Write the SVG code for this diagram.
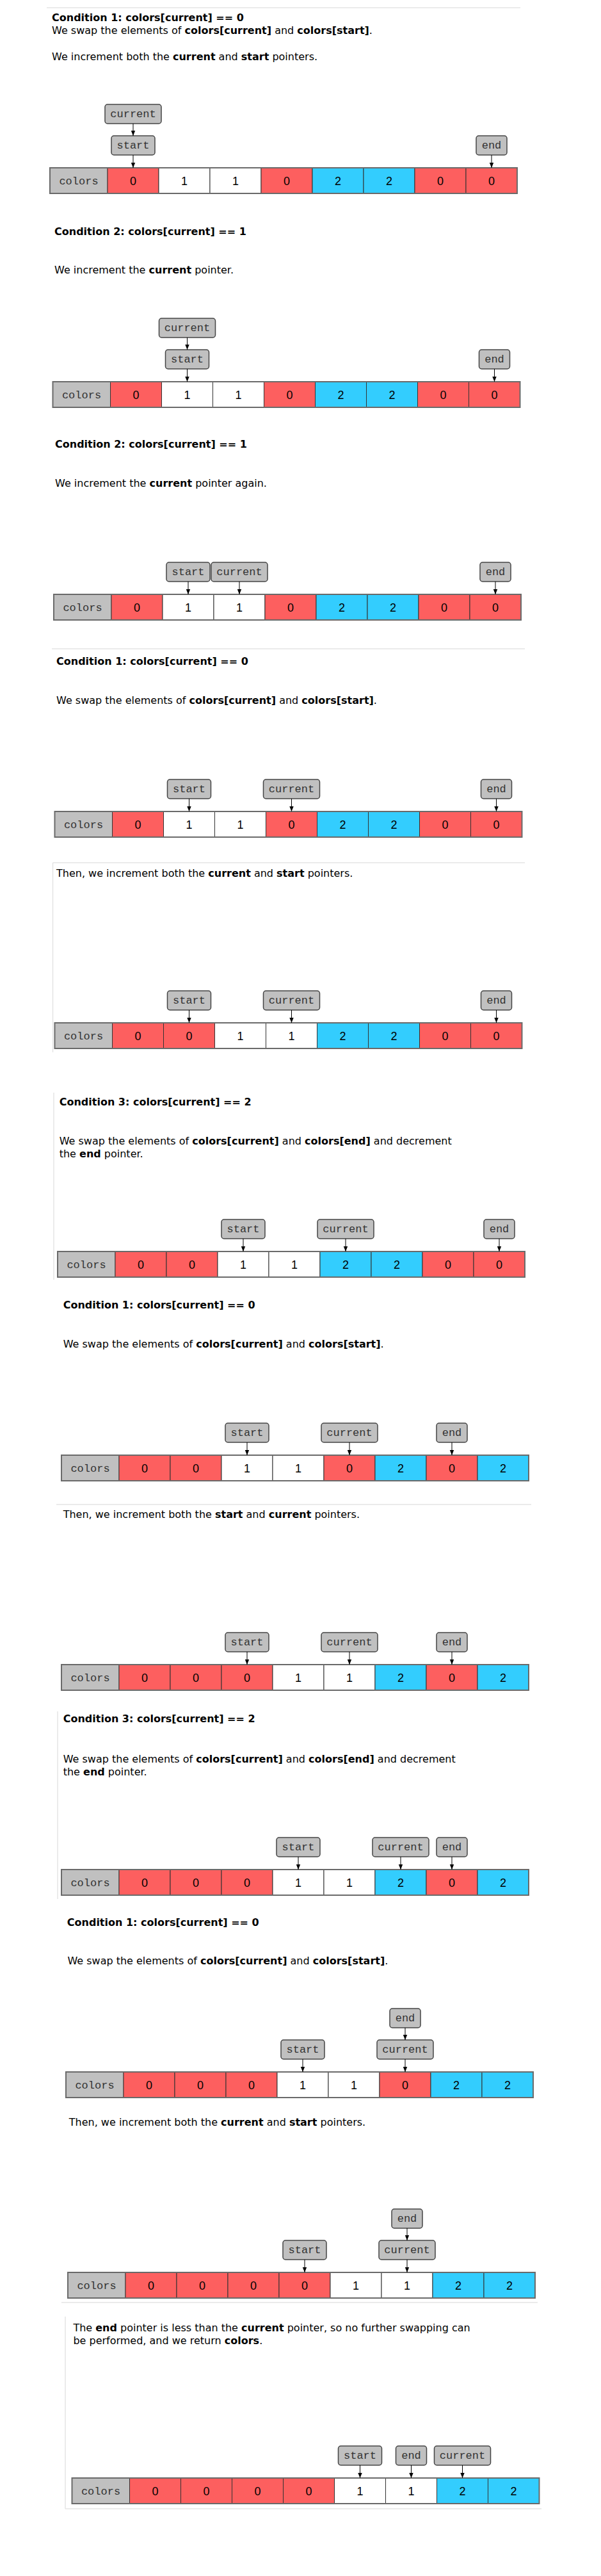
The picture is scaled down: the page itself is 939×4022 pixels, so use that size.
<svg xmlns="http://www.w3.org/2000/svg" xmlns:xlink="http://www.w3.org/1999/xlink" width="939" height="4022" viewBox="0 0 939 4022">
<style>
.t{font-family:"DejaVu Sans",Verdana,sans-serif;font-size:16px;fill:#000}
.b{font-weight:bold}
.rule{stroke:#e4e4e4;stroke-width:1.5;fill:none}
.p rect{fill:#c0c0c0;stroke:#454545;stroke-width:1.5}
.p text{font-family:"Liberation Mono","Courier New",monospace;font-size:17px;fill:#333;text-anchor:middle}
.cr{fill:#fd5f5f;stroke:#333;stroke-width:1}
.cw{fill:#fff;stroke:#333;stroke-width:1}
.cb{fill:#33cdfe;stroke:#333;stroke-width:1}
.cl{fill:#c0c0c0;stroke:#555;stroke-width:1}
.n{font-family:"Liberation Sans",Arial,sans-serif;font-size:18px;fill:#000;text-anchor:middle}
.m{font-family:"Liberation Mono","Courier New",monospace;font-size:17px;fill:#333;text-anchor:middle}
.ol{fill:none;stroke:#6a6a6a;stroke-width:2}
.a{stroke:#000;stroke-width:1;fill:none;marker-end:url(#ah)}
</style>
<defs>
<marker id="ah" viewBox="0 0 10 10" refX="10" refY="5" markerWidth="8" markerHeight="8" orient="auto" markerUnits="userSpaceOnUse"><path d="M0,1 L10,5 L0,9 z" fill="#000"/></marker>
<g id="lab"><rect class="cl" width="90" height="40"/><text class="m" x="45" y="25.5">colors</text></g>
<g id="v0"><rect class="cr" width="80" height="40"/><text class="n" x="40" y="26.5">0</text></g>
<g id="v1"><rect class="cw" width="80" height="40"/><text class="n" x="40" y="26.5">1</text></g>
<g id="v2"><rect class="cb" width="80" height="40"/><text class="n" x="40" y="26.5">2</text></g>
</defs>
<rect width="939" height="4022" fill="#fff"/>

<g id="rules">
<line class="rule" x1="73" y1="12" x2="813" y2="12"/>
<line class="rule" x1="81" y1="1013" x2="820" y2="1013"/>
<line class="rule" x1="82.5" y1="1347" x2="820" y2="1347"/>
<line class="rule" x1="82.5" y1="1347" x2="82.5" y2="1643"/>
<line class="rule" x1="84" y1="1706" x2="84" y2="1998"/>
<line class="rule" x1="88" y1="2349" x2="830" y2="2349"/>
<line class="rule" x1="90" y1="2672" x2="90" y2="2965"/>
<line class="rule" x1="96" y1="3595" x2="840" y2="3595"/>
<line class="rule" x1="102" y1="3617" x2="102" y2="3917"/>
<line class="rule" x1="102" y1="3917" x2="846" y2="3917"/>
</g>

<g id="texts">
<text class="t b" x="81" y="33">Condition 1: colors[current] == 0</text>
<text class="t" x="81" y="53">We swap the elements of <tspan class="b">colors[current]</tspan> and <tspan class="b">colors[start]</tspan>.</text>
<text class="t" x="81" y="94">We increment both the <tspan class="b">current</tspan> and <tspan class="b">start</tspan> pointers.</text>

<text class="t b" x="85" y="367">Condition 2: colors[current] == 1</text>
<text class="t" x="85" y="427">We increment the <tspan class="b">current</tspan> pointer.</text>

<text class="t b" x="86" y="699">Condition 2: colors[current] == 1</text>
<text class="t" x="86" y="760">We increment the <tspan class="b">current</tspan> pointer again.</text>

<text class="t b" x="88" y="1038">Condition 1: colors[current] == 0</text>
<text class="t" x="88" y="1099">We swap the elements of <tspan class="b">colors[current]</tspan> and <tspan class="b">colors[start]</tspan>.</text>

<text class="t" x="88" y="1369">Then, we increment both the <tspan class="b">current</tspan> and <tspan class="b">start</tspan> pointers.</text>

<text class="t b" x="92.7" y="1726">Condition 3: colors[current] == 2</text>
<text class="t" x="92.7" y="1787">We swap the elements of <tspan class="b">colors[current]</tspan> and <tspan class="b">colors[end]</tspan> and decrement</text>
<text class="t" x="92.7" y="1807">the <tspan class="b">end</tspan> pointer.</text>

<text class="t b" x="98.7" y="2043">Condition 1: colors[current] == 0</text>
<text class="t" x="98.7" y="2104">We swap the elements of <tspan class="b">colors[current]</tspan> and <tspan class="b">colors[start]</tspan>.</text>

<text class="t" x="98.7" y="2370">Then, we increment both the <tspan class="b">start</tspan> and <tspan class="b">current</tspan> pointers.</text>

<text class="t b" x="98.7" y="2689">Condition 3: colors[current] == 2</text>
<text class="t" x="98.7" y="2752">We swap the elements of <tspan class="b">colors[current]</tspan> and <tspan class="b">colors[end]</tspan> and decrement</text>
<text class="t" x="98.7" y="2772">the <tspan class="b">end</tspan> pointer.</text>

<text class="t b" x="104.8" y="3007">Condition 1: colors[current] == 0</text>
<text class="t" x="105.4" y="3067">We swap the elements of <tspan class="b">colors[current]</tspan> and <tspan class="b">colors[start]</tspan>.</text>
<text class="t" x="107.8" y="3319">Then, we increment both the <tspan class="b">current</tspan> and <tspan class="b">start</tspan> pointers.</text>

<text class="t" x="114.4" y="3640">The <tspan class="b">end</tspan> pointer is less than the <tspan class="b">current</tspan> pointer, so no further swapping can</text>
<text class="t" x="114.4" y="3660">be performed, and we return <tspan class="b">colors</tspan>.</text>
</g>

<g id="s1-array" transform="translate(78,262)"><use href="#lab"/><use href="#v0" x="90"/><use href="#v1" x="170"/><use href="#v1" x="250"/><use href="#v0" x="330"/><use href="#v2" x="410"/><use href="#v2" x="490"/><use href="#v0" x="570"/><use href="#v0" x="650"/><rect class="ol" width="730" height="40"/></g>
<g id="s2-array" transform="translate(82.5,596)"><use href="#lab"/><use href="#v0" x="90"/><use href="#v1" x="170"/><use href="#v1" x="250"/><use href="#v0" x="330"/><use href="#v2" x="410"/><use href="#v2" x="490"/><use href="#v0" x="570"/><use href="#v0" x="650"/><rect class="ol" width="730" height="40"/></g>
<g id="s3-array" transform="translate(84,928)"><use href="#lab"/><use href="#v0" x="90"/><use href="#v1" x="170"/><use href="#v1" x="250"/><use href="#v0" x="330"/><use href="#v2" x="410"/><use href="#v2" x="490"/><use href="#v0" x="570"/><use href="#v0" x="650"/><rect class="ol" width="730" height="40"/></g>
<g id="s4-array" transform="translate(85.5,1267)"><use href="#lab"/><use href="#v0" x="90"/><use href="#v1" x="170"/><use href="#v1" x="250"/><use href="#v0" x="330"/><use href="#v2" x="410"/><use href="#v2" x="490"/><use href="#v0" x="570"/><use href="#v0" x="650"/><rect class="ol" width="730" height="40"/></g>
<g id="s5-array" transform="translate(85.5,1597)"><use href="#lab"/><use href="#v0" x="90"/><use href="#v0" x="170"/><use href="#v1" x="250"/><use href="#v1" x="330"/><use href="#v2" x="410"/><use href="#v2" x="490"/><use href="#v0" x="570"/><use href="#v0" x="650"/><rect class="ol" width="730" height="40"/></g>
<g id="s6-array" transform="translate(90,1954)"><use href="#lab"/><use href="#v0" x="90"/><use href="#v0" x="170"/><use href="#v1" x="250"/><use href="#v1" x="330"/><use href="#v2" x="410"/><use href="#v2" x="490"/><use href="#v0" x="570"/><use href="#v0" x="650"/><rect class="ol" width="730" height="40"/></g>
<g id="s7-array" transform="translate(96,2272)"><use href="#lab"/><use href="#v0" x="90"/><use href="#v0" x="170"/><use href="#v1" x="250"/><use href="#v1" x="330"/><use href="#v0" x="410"/><use href="#v2" x="490"/><use href="#v0" x="570"/><use href="#v2" x="650"/><rect class="ol" width="730" height="40"/></g>
<g id="s8-array" transform="translate(96,2599)"><use href="#lab"/><use href="#v0" x="90"/><use href="#v0" x="170"/><use href="#v0" x="250"/><use href="#v1" x="330"/><use href="#v1" x="410"/><use href="#v2" x="490"/><use href="#v0" x="570"/><use href="#v2" x="650"/><rect class="ol" width="730" height="40"/></g>
<g id="s9-array" transform="translate(96,2919)"><use href="#lab"/><use href="#v0" x="90"/><use href="#v0" x="170"/><use href="#v0" x="250"/><use href="#v1" x="330"/><use href="#v1" x="410"/><use href="#v2" x="490"/><use href="#v0" x="570"/><use href="#v2" x="650"/><rect class="ol" width="730" height="40"/></g>
<g id="s10-array" transform="translate(103,3235)"><use href="#lab"/><use href="#v0" x="90"/><use href="#v0" x="170"/><use href="#v0" x="250"/><use href="#v1" x="330"/><use href="#v1" x="410"/><use href="#v0" x="490"/><use href="#v2" x="570"/><use href="#v2" x="650"/><rect class="ol" width="730" height="40"/></g>
<g id="s11-array" transform="translate(106,3548)"><use href="#lab"/><use href="#v0" x="90"/><use href="#v0" x="170"/><use href="#v0" x="250"/><use href="#v0" x="330"/><use href="#v1" x="410"/><use href="#v1" x="490"/><use href="#v2" x="570"/><use href="#v2" x="650"/><rect class="ol" width="730" height="40"/></g>
<g id="s12-array" transform="translate(112.5,3869)"><use href="#lab"/><use href="#v0" x="90"/><use href="#v0" x="170"/><use href="#v0" x="250"/><use href="#v0" x="330"/><use href="#v1" x="410"/><use href="#v1" x="490"/><use href="#v2" x="570"/><use href="#v2" x="650"/><rect class="ol" width="730" height="40"/></g>

<g id="s1-current" class="p"><rect x="164" y="163" width="88" height="30" rx="4"/><text x="208" y="183">current</text></g>
<g id="s1-start" class="p"><rect x="174" y="212" width="68" height="30" rx="4"/><text x="208" y="232">start</text></g>
<g id="s1-end" class="p"><rect x="744" y="212" width="48" height="30" rx="4"/><text x="768" y="232">end</text></g>

<g id="s2-current" class="p"><rect x="248.5" y="497" width="88" height="30" rx="4"/><text x="292.5" y="517">current</text></g>
<g id="s2-start" class="p"><rect x="258.5" y="546" width="68" height="30" rx="4"/><text x="292.5" y="566">start</text></g>
<g id="s2-end" class="p"><rect x="748.5" y="546" width="48" height="30" rx="4"/><text x="772.5" y="566">end</text></g>

<g id="s3-start" class="p"><rect x="260" y="878" width="68" height="30" rx="4"/><text x="294" y="898">start</text></g>
<g id="s3-current" class="p"><rect x="330" y="878" width="88" height="30" rx="4"/><text x="374" y="898">current</text></g>
<g id="s3-end" class="p"><rect x="750" y="878" width="48" height="30" rx="4"/><text x="774" y="898">end</text></g>

<g id="s4-start" class="p"><rect x="261.5" y="1217" width="68" height="30" rx="4"/><text x="295.5" y="1237">start</text></g>
<g id="s4-current" class="p"><rect x="411.5" y="1217" width="88" height="30" rx="4"/><text x="455.5" y="1237">current</text></g>
<g id="s4-end" class="p"><rect x="751.5" y="1217" width="48" height="30" rx="4"/><text x="775.5" y="1237">end</text></g>

<g id="s5-start" class="p"><rect x="261.5" y="1547" width="68" height="30" rx="4"/><text x="295.5" y="1567">start</text></g>
<g id="s5-current" class="p"><rect x="411.5" y="1547" width="88" height="30" rx="4"/><text x="455.5" y="1567">current</text></g>
<g id="s5-end" class="p"><rect x="751.5" y="1547" width="48" height="30" rx="4"/><text x="775.5" y="1567">end</text></g>

<g id="s6-start" class="p"><rect x="346" y="1904" width="68" height="30" rx="4"/><text x="380" y="1924">start</text></g>
<g id="s6-current" class="p"><rect x="496" y="1904" width="88" height="30" rx="4"/><text x="540" y="1924">current</text></g>
<g id="s6-end" class="p"><rect x="756" y="1904" width="48" height="30" rx="4"/><text x="780" y="1924">end</text></g>

<g id="s7-start" class="p"><rect x="352" y="2222" width="68" height="30" rx="4"/><text x="386" y="2242">start</text></g>
<g id="s7-current" class="p"><rect x="502" y="2222" width="88" height="30" rx="4"/><text x="546" y="2242">current</text></g>
<g id="s7-end" class="p"><rect x="682" y="2222" width="48" height="30" rx="4"/><text x="706" y="2242">end</text></g>

<g id="s8-start" class="p"><rect x="352" y="2549" width="68" height="30" rx="4"/><text x="386" y="2569">start</text></g>
<g id="s8-current" class="p"><rect x="502" y="2549" width="88" height="30" rx="4"/><text x="546" y="2569">current</text></g>
<g id="s8-end" class="p"><rect x="682" y="2549" width="48" height="30" rx="4"/><text x="706" y="2569">end</text></g>

<g id="s9-start" class="p"><rect x="432" y="2869" width="68" height="30" rx="4"/><text x="466" y="2889">start</text></g>
<g id="s9-current" class="p"><rect x="582" y="2869" width="88" height="30" rx="4"/><text x="626" y="2889">current</text></g>
<g id="s9-end" class="p"><rect x="682" y="2869" width="48" height="30" rx="4"/><text x="706" y="2889">end</text></g>

<g id="s10-end" class="p"><rect x="609" y="3136" width="48" height="30" rx="4"/><text x="633" y="3156">end</text></g>
<g id="s10-start" class="p"><rect x="439" y="3185" width="68" height="30" rx="4"/><text x="473" y="3205">start</text></g>
<g id="s10-current" class="p"><rect x="589" y="3185" width="88" height="30" rx="4"/><text x="633" y="3205">current</text></g>

<g id="s11-end" class="p"><rect x="612" y="3449" width="48" height="30" rx="4"/><text x="636" y="3469">end</text></g>
<g id="s11-start" class="p"><rect x="442" y="3498" width="68" height="30" rx="4"/><text x="476" y="3518">start</text></g>
<g id="s11-current" class="p"><rect x="592" y="3498" width="88" height="30" rx="4"/><text x="636" y="3518">current</text></g>

<g id="s12-start" class="p"><rect x="528.5" y="3819" width="68" height="30" rx="4"/><text x="562.5" y="3839">start</text></g>
<g id="s12-end" class="p"><rect x="618.5" y="3819" width="48" height="30" rx="4"/><text x="642.5" y="3839">end</text></g>
<g id="s12-current" class="p"><rect x="678.5" y="3819" width="88" height="30" rx="4"/><text x="722.5" y="3839">current</text></g>

<g id="connectors">
<line class="a" x1="208" y1="193" x2="208" y2="212"/>
<line class="a" x1="208" y1="242" x2="208" y2="262"/>
<line class="a" x1="768" y1="242" x2="768" y2="262"/>
<line class="a" x1="292.5" y1="527" x2="292.5" y2="546"/>
<line class="a" x1="292.5" y1="576" x2="292.5" y2="596"/>
<line class="a" x1="772.5" y1="576" x2="772.5" y2="596"/>
<line class="a" x1="294" y1="908" x2="294" y2="928"/>
<line class="a" x1="374" y1="908" x2="374" y2="928"/>
<line class="a" x1="774" y1="908" x2="774" y2="928"/>
<line class="a" x1="295.5" y1="1247" x2="295.5" y2="1267"/>
<line class="a" x1="455.5" y1="1247" x2="455.5" y2="1267"/>
<line class="a" x1="775.5" y1="1247" x2="775.5" y2="1267"/>
<line class="a" x1="295.5" y1="1577" x2="295.5" y2="1597"/>
<line class="a" x1="455.5" y1="1577" x2="455.5" y2="1597"/>
<line class="a" x1="775.5" y1="1577" x2="775.5" y2="1597"/>
<line class="a" x1="380" y1="1934" x2="380" y2="1954"/>
<line class="a" x1="540" y1="1934" x2="540" y2="1954"/>
<line class="a" x1="780" y1="1934" x2="780" y2="1954"/>
<line class="a" x1="386" y1="2252" x2="386" y2="2272"/>
<line class="a" x1="546" y1="2252" x2="546" y2="2272"/>
<line class="a" x1="706" y1="2252" x2="706" y2="2272"/>
<line class="a" x1="386" y1="2579" x2="386" y2="2599"/>
<line class="a" x1="546" y1="2579" x2="546" y2="2599"/>
<line class="a" x1="706" y1="2579" x2="706" y2="2599"/>
<line class="a" x1="466" y1="2899" x2="466" y2="2919"/>
<line class="a" x1="626" y1="2899" x2="626" y2="2919"/>
<line class="a" x1="706" y1="2899" x2="706" y2="2919"/>
<line class="a" x1="633" y1="3166" x2="633" y2="3185"/>
<line class="a" x1="473" y1="3215" x2="473" y2="3235"/>
<line class="a" x1="633" y1="3215" x2="633" y2="3235"/>
<line class="a" x1="636" y1="3479" x2="636" y2="3498"/>
<line class="a" x1="476" y1="3528" x2="476" y2="3548"/>
<line class="a" x1="636" y1="3528" x2="636" y2="3548"/>
<line class="a" x1="562.5" y1="3849" x2="562.5" y2="3869"/>
<line class="a" x1="642.5" y1="3849" x2="642.5" y2="3869"/>
<line class="a" x1="722.5" y1="3849" x2="722.5" y2="3869"/>
</g>
</svg>
